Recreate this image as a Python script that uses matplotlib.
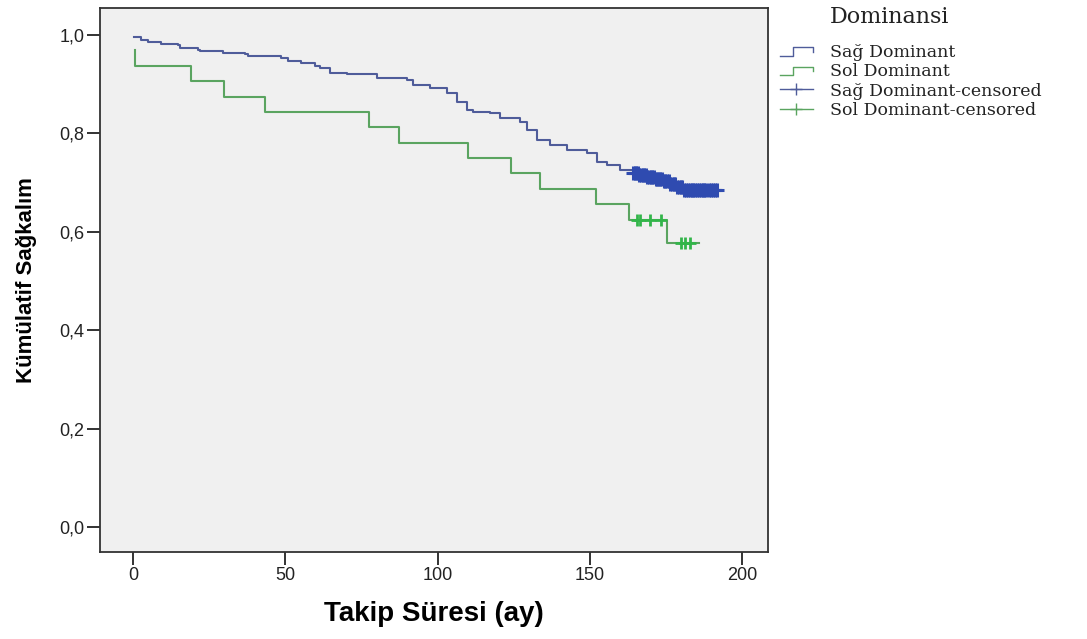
import numpy as np
import matplotlib
matplotlib.use('Agg')
import matplotlib.pyplot as plt
from matplotlib.lines import Line2D
from matplotlib.legend_handler import HandlerBase
from matplotlib.ticker import FuncFormatter

# ---------------------------------------------------------------------------
# Data
# ---------------------------------------------------------------------------
# Sağ Dominant: tijdstip van elke daling en overleving na de daling
sag_start = (0.3, 0.997)
sag_times = [2.6, 4.9, 9.2, 14.8, 15.4, 21.3, 22.0, 29.6, 36.8, 37.8, 48.6,
             50.9, 55.2, 59.8, 61.4, 64.7, 70.3, 80.1, 90.0, 92.0, 97.5,
             103.1, 106.4, 109.7, 111.7, 117.2, 120.5, 127.1, 129.4, 132.7,
             136.9, 142.5, 149.1, 152.4, 155.7, 159.9, 164.2, 166.0, 168.5,
             171.5, 174.0, 176.0, 178.5, 180.5]
sag_surv = [0.990, 0.986, 0.982, 0.979, 0.974, 0.970, 0.967, 0.963, 0.961,
            0.958, 0.953, 0.948, 0.943, 0.938, 0.932, 0.923, 0.920, 0.912,
            0.909, 0.898, 0.892, 0.882, 0.864, 0.848, 0.844, 0.842, 0.831,
            0.823, 0.807, 0.787, 0.776, 0.766, 0.760, 0.742, 0.736, 0.726,
            0.719, 0.716, 0.712, 0.708, 0.703, 0.698, 0.692, 0.685]
sag_end = 193.0
sag_censored = [164.3, 164.8, 165.2, 165.7, 166.2, 166.8, 167.3, 167.8, 168.4,
                168.9, 169.4, 170.0, 170.5, 171.0, 171.6, 172.1, 172.7, 173.2,
                173.7, 174.3, 174.8, 175.3, 175.9, 176.4, 177.0, 177.5, 178.0,
                178.6, 179.2, 179.8, 180.4, 181.0, 181.6, 182.2, 182.8, 183.4,
                184.0, 184.6, 185.2, 185.8, 186.4, 187.0, 187.6, 188.3, 189.0,
                189.7, 190.4, 191.1, 191.8]

# Sol Dominant
sol_start = (0.7, 0.969)
sol_times = [0.7, 19.0, 30.0, 43.5, 77.5, 87.5, 110.0, 124.0, 133.5, 152.0,
             163.0, 175.5]
sol_surv = [0.938, 0.906, 0.875, 0.844, 0.8125, 0.781, 0.750, 0.719, 0.6875,
            0.656, 0.625, 0.577]
sol_end = 186.0
sol_censored = [165.4, 166.5, 169.8, 173.4, 179.8, 181.3, 182.8]

x_ticks = [0, 50, 100, 150, 200]
y_ticks = [0.0, 0.2, 0.4, 0.6, 0.8, 1.0]

col_sag_line = '#4f5c9a'
col_sag_cens = '#2f4bb0'
col_sol_line = '#5aa460'
col_sol_cens = '#33b54a'

W, H = 1087, 639


def step_arrays(start, times, surv, end):
    xs = [start[0]] + list(times) + [end]
    ys = [start[1]] + list(surv) + [surv[-1]]
    return np.array(xs), np.array(ys)


def surv_at(xs, ys, t):
    idx = np.searchsorted(xs, t, side='right') - 1
    return ys[idx]


class HandlerStep(HandlerBase):
    # SPSS-achtig trapje als legendasymbool
    def create_artists(self, legend, orig_handle, xdescent, ydescent,
                       width, height, fontsize, trans):
        x0 = -xdescent
        y0 = -ydescent
        xs = [x0, x0 + 0.4 * width, x0 + 0.4 * width, x0 + width, x0 + width]
        ys = [y0 + 0.1 * height, y0 + 0.1 * height, y0 + 0.8 * height,
              y0 + 0.8 * height, y0 + 0.4 * height]
        ln = Line2D(xs, ys, color=orig_handle.get_color(), lw=1.0)
        ln.set_transform(trans)
        return [ln]


# ---------------------------------------------------------------------------
# Grafiek
# ---------------------------------------------------------------------------
fig = plt.figure(figsize=(W / 100, H / 100), dpi=100)
ax = fig.add_axes([100 / W, 1 - 552 / H, 668 / W, 544 / H])
ax.set_facecolor('#f0f0f0')

sx, sy = step_arrays(sag_start, sag_times, sag_surv, sag_end)
ox, oy = step_arrays(sol_start, sol_times, sol_surv, sol_end)

ax.step(sx, sy, where='post', color=col_sag_line, lw=1.5)
ax.step(ox, oy, where='post', color=col_sol_line, lw=1.5)

ax.plot(sag_censored, surv_at(sx, sy, np.array(sag_censored)), '+',
        color=col_sag_cens, ms=10, mew=2.2)
ax.plot(sol_censored, surv_at(ox, oy, np.array(sol_censored)), '+',
        color=col_sol_cens, ms=9, mew=2.0)

ax.set_xlim(-10.8, 208.5)
ax.set_ylim(-0.051, 1.055)
ax.set_xticks(x_ticks)
ax.set_yticks(y_ticks)
ax.yaxis.set_major_formatter(FuncFormatter(lambda v, p: f'{v:.1f}'.replace('.', ',')))
ax.tick_params(direction='out', length=9.5, width=1.3, labelsize=13,
               pad=1.5, colors='#222222')
for sp in ax.spines.values():
    sp.set_linewidth(1.3)
    sp.set_color('#333333')
for lab in ax.get_xticklabels() + ax.get_yticklabels():
    lab.set_family(['Liberation Sans', 'DejaVu Sans'])

ax.set_xlabel('Takip Süresi (ay)', fontsize=20, fontweight='bold',
              family=['Liberation Sans', 'DejaVu Sans'])
ax.xaxis.set_label_coords(0.5, -0.09)
ax.set_ylabel('Kümülatif Sağkalım', fontsize=16, fontweight='bold',
              family=['Liberation Sans', 'DejaVu Sans'])
ax.yaxis.set_label_coords(-0.094, 0.5)

# Legenda
fig.text(830 / W, 1 - 6 / H, 'Dominansi', ha='left', va='top',
         family='DejaVu Serif', fontsize=16, color='#222222')

h_sag = Line2D([], [], color=col_sag_line)
h_sol = Line2D([], [], color=col_sol_line)
h_sag_c = Line2D([], [], color=col_sag_line, lw=1.0, marker='+', ms=9,
                 mew=1.0, markeredgecolor=col_sag_line)
h_sol_c = Line2D([], [], color=col_sol_line, lw=1.0, marker='+', ms=9,
                 mew=1.0, markeredgecolor=col_sol_line)
leg = fig.legend([h_sag, h_sol, h_sag_c, h_sol_c],
                 ['Sağ Dominant', 'Sol Dominant', 'Sağ Dominant-censored',
                  'Sol Dominant-censored'],
                 handler_map={h_sag: HandlerStep(), h_sol: HandlerStep()},
                 loc='upper left', bbox_to_anchor=(780 / W, 1 - 44 / H),
                 borderaxespad=0, borderpad=0,
                 frameon=False, numpoints=1, handlelength=1.9,
                 handletextpad=1.0, labelspacing=0.13,
                 prop={'family': 'DejaVu Serif', 'size': 12.5})
for t in leg.get_texts():
    t.set_color('#222222')

fig.savefig('out.png', dpi=100, facecolor='white')
